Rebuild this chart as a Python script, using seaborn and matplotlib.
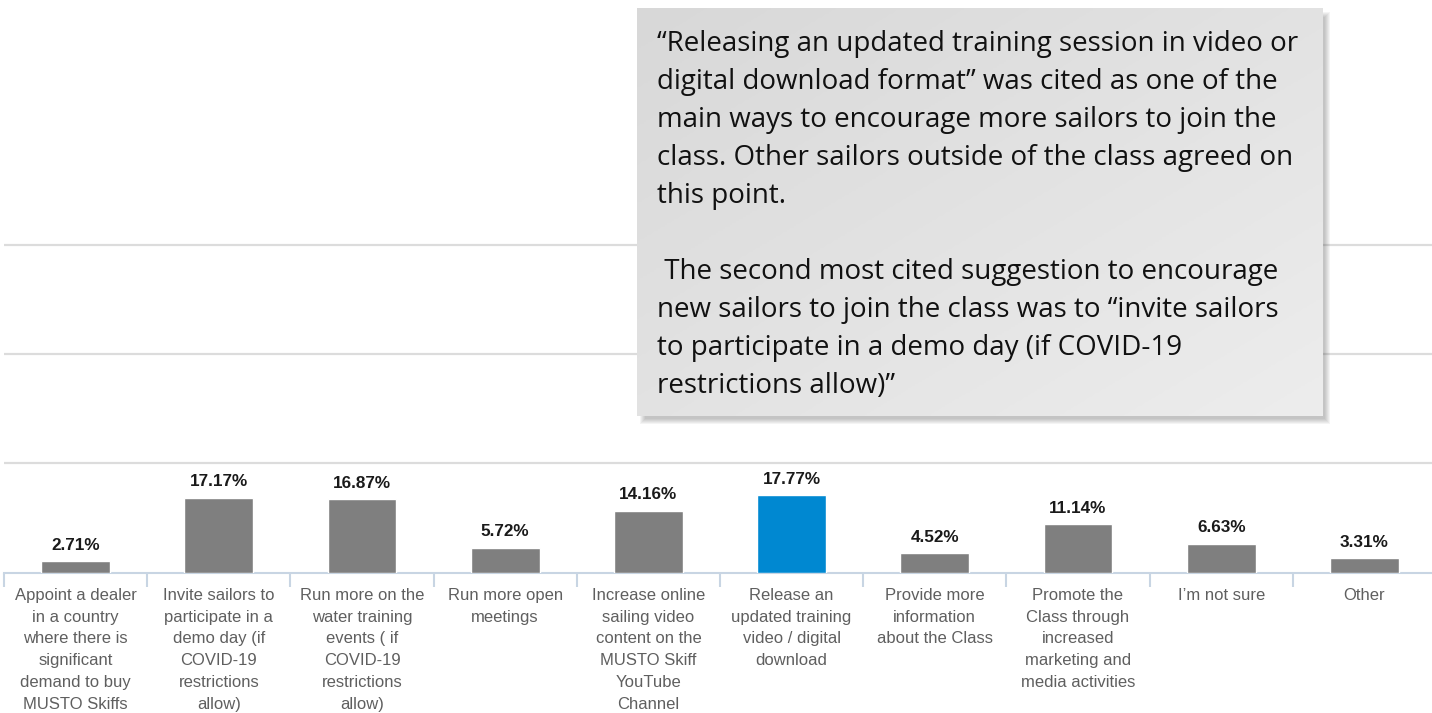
import numpy as np
import pandas as pd
import matplotlib
matplotlib.use("Agg")
import matplotlib.pyplot as plt
from matplotlib.patches import Rectangle
from matplotlib.colors import LinearSegmentedColormap
import seaborn as sns

categories = [
    "Appoint a dealer\nin a country\nwhere there is\nsignificant\ndemand to buy\nMUSTO Skiffs",
    "Invite sailors to\nparticipate in a\ndemo day (if\nCOVID-19\nrestrictions\nallow)",
    "Run more on the\nwater training\nevents ( if\nCOVID-19\nrestrictions\nallow)",
    "Run more open\nmeetings",
    "Increase online\nsailing video\ncontent on the\nMUSTO Skiff\nYouTube\nChannel",
    "Release an\nupdated training\nvideo / digital\ndownload",
    "Provide more\ninformation\nabout the Class",
    "Promote the\nClass through\nincreased\nmarketing and\nmedia activities",
    "I\u2019m not sure",
    "Other",
]
values = [2.71, 17.17, 16.87, 5.72, 14.16, 17.77, 4.52, 11.14, 6.63, 3.31]
highlight = "Release an\nupdated training\nvideo / digital\ndownload"

note = ("\u201cReleasing an updated training session in video or\n"
        "digital download format\u201d was cited as one of the\n"
        "main ways to encourage more sailors to join the\n"
        "class. Other sailors outside of the class agreed on\n"
        "this point.\n"
        "\n"
        " The second most cited suggestion to encourage\n"
        "new sailors to join the class was to \u201cinvite sailors\n"
        "to participate in a demo day (if COVID-19\n"
        "restrictions allow)\u201d")

GREY = "#7f7f7f"
BLUE = "#0088d1"
AXIS_COL = "#c8d5e3"

df = pd.DataFrame({"option": categories, "pct": values})
palette = {c: (BLUE if c == highlight else GREY) for c in categories}

sns.set_theme(style="white")
plt.rcParams["font.family"] = ["Liberation Sans", "DejaVu Sans"]

W, H = 1432, 713
fig = plt.figure(figsize=(W / 100, H / 100), dpi=100)
ax = fig.add_axes([4 / W, 140.3 / H, 1432 / W, 572.7 / H])

sns.barplot(data=df, x="option", y="pct", hue="option", palette=palette,
            legend=False, width=0.48, saturation=1, ax=ax, zorder=3)

for cont in ax.containers:
    ax.bar_label(cont, fmt="%.2f%%", padding=6, fontsize=12.3,
                 fontweight="bold", color="#1a1a1a")

ax.set_xlim(-0.5, len(categories) - 0.5)
ax.set_ylim(0, 131)
ax.set_yticks([25, 50, 75])
ax.set_yticklabels([])
ax.tick_params(axis="y", length=0)
ax.yaxis.grid(True, color="#dcdcdc", linewidth=1.6)
ax.xaxis.grid(False)
ax.set_xlabel("")
ax.set_ylabel("")
for s in ["left", "top", "right"]:
    ax.spines[s].set_visible(False)
ax.spines["bottom"].set_color(AXIS_COL)
ax.spines["bottom"].set_linewidth(1.5)

ax.set_xticks(np.arange(-0.5, len(categories), 1), minor=True)
ax.tick_params(axis="x", which="minor", length=10, width=1.5,
               color=AXIS_COL, bottom=True)
ax.tick_params(axis="x", which="major", length=0, pad=11)
for lab in ax.get_xticklabels():
    lab.set_fontsize(12)
    lab.set_color("#5f5f5f")
    lab.set_linespacing(1.56)
    lab.set_ha("center")

# callout box drawn in pixel space on top
ov = fig.add_axes([0, 0, 1, 1], zorder=5)
ov.set_xlim(0, W)
ov.set_ylim(H, 0)
ov.axis("off")

bx0, by0, bx1, by1 = 637, 8, 1323, 416
for k in range(6):
    ov.add_patch(Rectangle((bx0 + 8 - k, by0 + 9 - k), (bx1 - bx0) + 2 * k - 6,
                           (by1 - by0) + 2 * k - 6, facecolor="#444444",
                           edgecolor="none", alpha=0.06, zorder=1))
grad = np.add.outer(np.linspace(0, 1, 200), np.linspace(0, 1, 300)) / 2
cmap = LinearSegmentedColormap.from_list("box", ["#d8d8d8", "#ededed"])
ov.imshow(grad, cmap=cmap, extent=(bx0, bx1, by1, by0), aspect="auto",
          interpolation="bilinear", zorder=2)
ov.set_xlim(0, W)
ov.set_ylim(H, 0)
ov.text(657, 30, note, ha="left", va="top", fontsize=20,
        family=["Open Sans", "DejaVu Sans"], color="#111111",
        linespacing=1.475, zorder=3)

fig.savefig("out.png", dpi=100)
